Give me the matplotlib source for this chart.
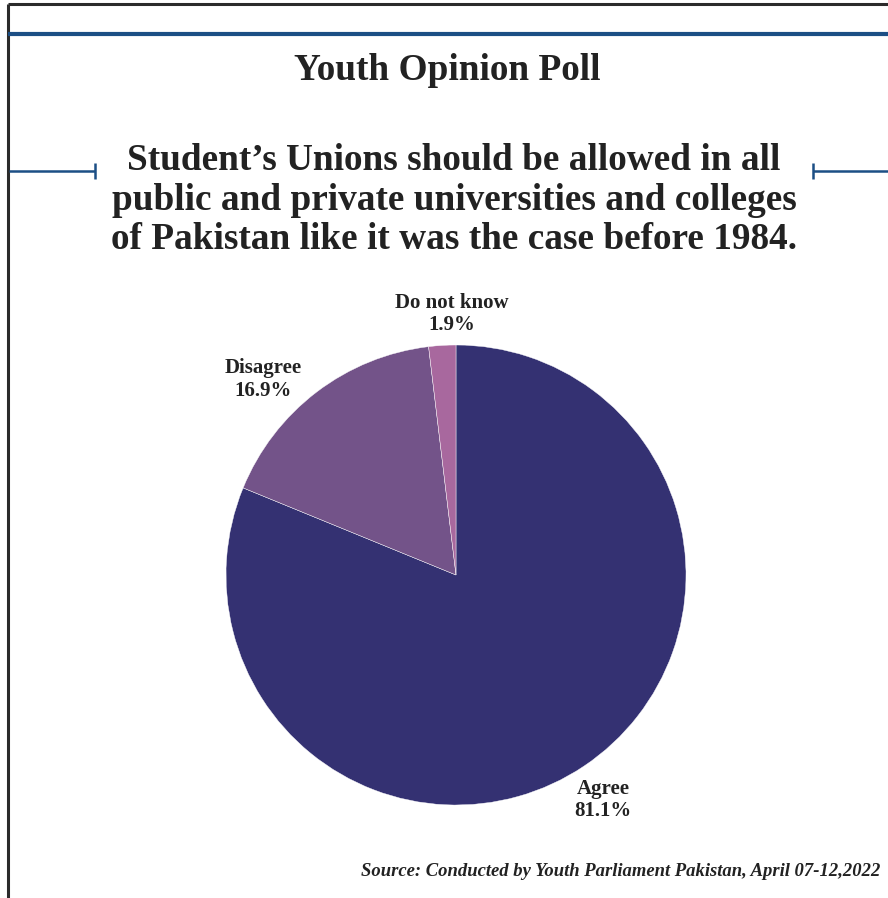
import matplotlib
matplotlib.use("Agg")
import matplotlib.pyplot as plt

# Poll results
categories = ["Agree", "Disagree", "Do not know"]
shares = [81.1, 16.9, 1.9]
colors = ["#343172", "#735389", "#A8689E"]

title = "Youth Opinion Poll"
question = ("Student\u2019s Unions should be allowed in all\n"
            "public and private universities and colleges\n"
            "of Pakistan like it was the case before 1984.")
source = "Source: Conducted by Youth Parliament Pakistan, April 07-12,2022"

W, H = 888, 898
fig = plt.figure(figsize=(W / 100, H / 100), dpi=100)
fig.patch.set_facecolor("white")

serif = ["Liberation Serif", "DejaVu Serif"]

# Frame overlay in pixel coordinates
over = fig.add_axes([0, 0, 1, 1])
over.set_xlim(0, W)
over.set_ylim(H, 0)
over.axis("off")

black = "#2b2b2b"
blue = "#1c4f85"
over.plot([8, W], [4, 4], color=black, lw=2.2, solid_capstyle="butt")
over.plot([8, 8], [4, H], color=black, lw=2.2, solid_capstyle="butt")
over.plot([8, W], [33.5, 33.5], color=blue, lw=3.0, solid_capstyle="butt")
# side brackets around the question
over.plot([9, 95], [171, 171], color=blue, lw=1.8, solid_capstyle="butt")
over.plot([95, 95], [163, 179], color=blue, lw=1.8, solid_capstyle="butt")
over.plot([813, W], [171, 171], color=blue, lw=1.8, solid_capstyle="butt")
over.plot([813, 813], [163, 179], color=blue, lw=1.8, solid_capstyle="butt")

over.text(447, 71, title, ha="center", va="center", fontsize=26.8,
          fontweight="bold", family=serif, color="#222222")
over.text(454, 200, question, ha="center", va="center", fontsize=26.8,
          fontweight="bold", family=serif, color="#222222", linespacing=1.16)
over.text(880, 871, source, ha="right", va="center", fontsize=13.4,
          fontweight="bold", fontstyle="italic", family=serif, color="#222222")

# Pie chart: centre (456, 575), radius 230 px
cx, cy, r = 456, 575, 230
pie_ax = fig.add_axes([(cx - r) / W, (H - cy - r) / H, 2 * r / W, 2 * r / H])
pie_ax.pie(shares, colors=colors, startangle=90, counterclock=False,
           wedgeprops=dict(edgecolor="white", linewidth=0.3))
pie_ax.set_xlim(-1, 1)
pie_ax.set_ylim(-1, 1)
pie_ax.set_aspect("equal")
pie_ax.axis("off")

label_pos = {"Agree": (0.64, -0.978), "Disagree": (-0.84, 0.85),
             "Do not know": (-0.017, 1.135)}
for name, val in zip(categories, shares):
    x, y = label_pos[name]
    pie_ax.text(x, y, f"{name}\n{val}%", ha="center", va="center",
                fontsize=15, fontweight="bold", family=serif,
                color="#222222", linespacing=1.15, clip_on=False)

fig.savefig("out.png", dpi=100, facecolor="white")
